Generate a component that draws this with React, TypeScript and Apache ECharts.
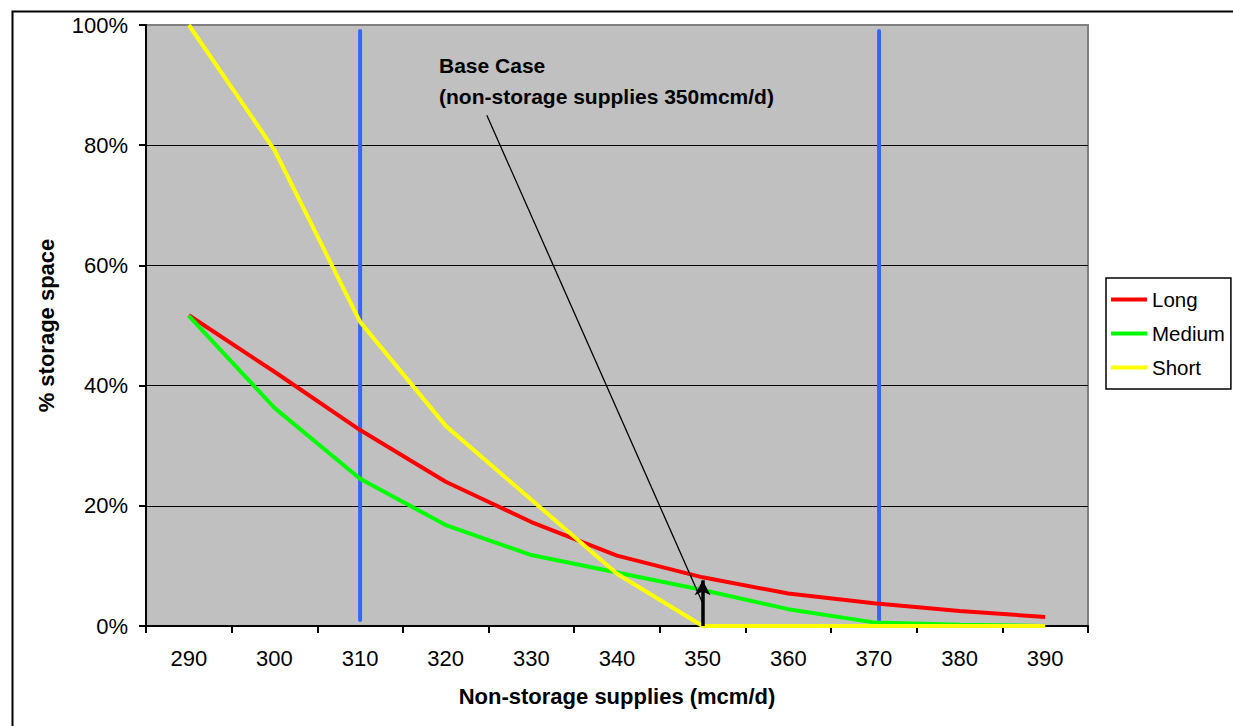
import React, { useEffect, useRef } from "react";
import * as echarts from "echarts";

const categories = ["290", "300", "310", "320", "330", "340", "350", "360", "370", "380", "390"];
const longValues = [51.7, 42.3, 32.6, 24.0, 17.3, 11.7, 8.1, 5.4, 3.8, 2.5, 1.5];
const mediumValues = [51.6, 36.3, 24.5, 16.8, 11.8, 8.9, 6.0, 2.8, 0.6, 0.2, 0.0];
const shortValues = [100, 79.2, 50.6, 33.3, 21.0, 8.7, 0, 0, 0, 0, 0];

const supplyRange = [285, 395];
const markerSupplies = [310, 370.6];
const markerRange = [1, 99];
const baseCaseSupply = 350;
const baseCaseArrow = [0, 7.6];
const calloutStart = [324.8, 85];
const calloutEnd = [350.1, 3.5];
const calloutLines = ["Base Case", "(non-storage supplies 350mcm/d)"];

const FONT = "Arial, 'Liberation Sans', sans-serif";

export default function App() {
  const ref = useRef<HTMLDivElement>(null);

  useEffect(() => {
    document.body.style.margin = "0";
    const chart = echarts.init(ref.current!, null, { renderer: "svg" });

    const markerSeries = markerSupplies.map((s, i) => ({
      name: "marker" + i,
      type: "line",
      xAxisIndex: 1,
      yAxisIndex: 0,
      data: [
        [s, markerRange[0]],
        [s, markerRange[1]],
      ],
      showSymbol: false,
      symbol: "none",
      lineStyle: { color: "#3366ff", width: 4, cap: "round" },
      z: 3,
      silent: true,
    }));

    (markerSeries[0] as any).markLine = {
      silent: true,
      animation: false,
      symbol: ["none", "none"],
      label: { show: false },
      data: [
        [
          { coord: calloutStart, symbol: "none", lineStyle: { color: "#000", width: 1.3, type: "solid" } },
          { coord: calloutEnd, symbol: "none" },
        ],
        [
          { coord: [baseCaseSupply, baseCaseArrow[0]], symbol: "none", lineStyle: { color: "#000", width: 3.5, type: "solid" } },
          { coord: [baseCaseSupply, baseCaseArrow[1]], symbol: "arrow", symbolSize: [12, 15] },
        ],
      ],
    };

    const option: any = {
      animation: false,
      textStyle: { fontFamily: FONT },
      grid: {
        left: 146,
        right: 145,
        top: 25,
        bottom: 100,
        show: true,
        backgroundColor: "#c0c0c0",
        borderColor: "#808080",
        borderWidth: 2,
      },
      legend: {
        data: ["Long", "Medium", "Short"],
        orient: "vertical",
        left: 1106,
        top: 278,
        icon: "rect",
        itemWidth: 36,
        itemHeight: 4,
        itemGap: 13,
        padding: [11, 6, 11, 5],
        borderColor: "#000",
        borderWidth: 1.5,
        backgroundColor: "#fff",
        textStyle: { fontSize: 20.5, color: "#000", fontFamily: FONT, lineHeight: 20 },
      },
      xAxis: [
        {
          type: "category",
          data: categories,
          boundaryGap: true,
          name: "Non-storage supplies (mcm/d)",
          nameLocation: "middle",
          nameGap: 59,
          nameTextStyle: { fontSize: 22, fontWeight: "bold", color: "#000", fontFamily: FONT },
          axisLine: { lineStyle: { color: "#000", width: 2 } },
          axisTick: { show: true, length: 7, lineStyle: { color: "#000", width: 2 } },
          axisLabel: { fontSize: 22, color: "#000", margin: 21, fontFamily: FONT },
          splitLine: { show: false },
        },
        {
          type: "value",
          min: supplyRange[0],
          max: supplyRange[1],
          show: false,
          splitLine: { show: false },
        },
      ],
      yAxis: {
        type: "value",
        min: 0,
        max: 100,
        interval: 20,
        name: "% storage space",
        nameLocation: "middle",
        nameRotate: 90,
        nameGap: 89,
        nameTextStyle: { fontSize: 22, fontWeight: "bold", color: "#000", fontFamily: FONT },
        axisLine: { show: true, lineStyle: { color: "#000", width: 2 } },
        axisTick: { show: true, length: 7, lineStyle: { color: "#000", width: 2 } },
        axisLabel: { fontSize: 22, color: "#000", margin: 18, formatter: "{value}%", fontFamily: FONT },
        splitLine: {
          show: true,
          lineStyle: { color: ["#000", "#000", "#000", "#000", "#000", "#808080"], width: 1.2 },
        },
      },
      graphic: [
        {
          type: "rect",
          left: 10,
          top: 9,
          shape: { width: 1300, height: 800 },
          style: { fill: "none", stroke: "#000", lineWidth: 2 },
          silent: true,
          z: -10,
        },
        {
          type: "text",
          left: 439,
          top: 50,
          style: {
            text: calloutLines.join("\n"),
            font: "bold 21px " + FONT,
            fill: "#000",
            lineHeight: 31,
          },
          z: 10,
        },
      ],
      series: [
        {
          name: "Long",
          type: "line",
          data: longValues,
          showSymbol: false,
          symbol: "none",
          lineStyle: { color: "#ff0000", width: 4 },
          itemStyle: { color: "#ff0000" },
          z: 4,
        },
        {
          name: "Medium",
          type: "line",
          data: mediumValues,
          showSymbol: false,
          symbol: "none",
          lineStyle: { color: "#00ff00", width: 4 },
          itemStyle: { color: "#00ff00" },
          z: 4,
        },
        {
          name: "Short",
          type: "line",
          data: shortValues,
          showSymbol: false,
          symbol: "none",
          lineStyle: { color: "#ffff00", width: 4 },
          itemStyle: { color: "#ffff00" },
          z: 4,
        },
        ...markerSeries,
      ],
    };

    chart.setOption(option);
    return () => chart.dispose();
  }, []);

  return <div ref={ref} style={{ width: 1233, height: 726 }} />;
}
